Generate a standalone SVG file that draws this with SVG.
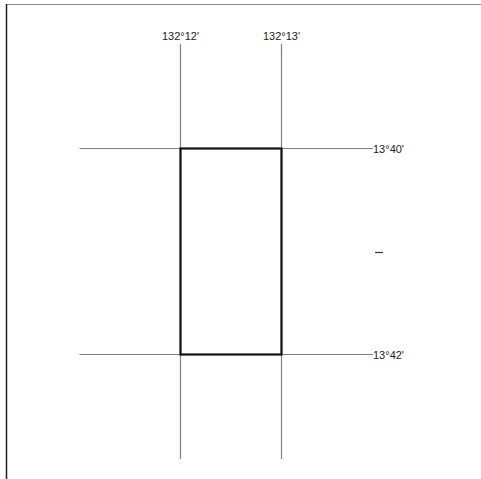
<svg xmlns="http://www.w3.org/2000/svg" width="481" height="479" viewBox="0 0 481 479">
<style>
.grid{stroke:#808080;stroke-width:1.2;fill:none}
.lbl{font-family:"Liberation Sans",Arial,sans-serif;font-size:11px;fill:#222}
</style>
<rect width="481" height="479" fill="#fff"/>
<g id="frame">
<line x1="6" y1="4.5" x2="481" y2="4.5" stroke="#8a8a8a" stroke-width="1"/>
<line x1="6.5" y1="4" x2="6.5" y2="479" stroke="#222" stroke-width="1.5"/>
</g>
<g id="connectors">
<line class="grid" x1="180.5" y1="44" x2="180.5" y2="459"/>
<line class="grid" x1="281.5" y1="44" x2="281.5" y2="459"/>
<line class="grid" x1="79.5" y1="148.5" x2="373" y2="148.5"/>
<line class="grid" x1="79.5" y1="354.5" x2="373" y2="354.5"/>
</g>
<g id="box">
<rect x="180.5" y="148.5" width="101" height="206" fill="none" stroke="#111" stroke-width="2.2"/>
</g>
<g id="labels">
<text class="lbl" x="180.5" y="40" text-anchor="middle">132°12'</text>
<text class="lbl" x="281.5" y="40" text-anchor="middle">132°13'</text>
<text class="lbl" x="373" y="152.5">13°40'</text>
<text class="lbl" x="373" y="358.5">13°42'</text>
</g>
<g id="dash">
<line x1="375" y1="252.5" x2="383" y2="252.5" stroke="#333" stroke-width="1.2"/>
</g>
</svg>
